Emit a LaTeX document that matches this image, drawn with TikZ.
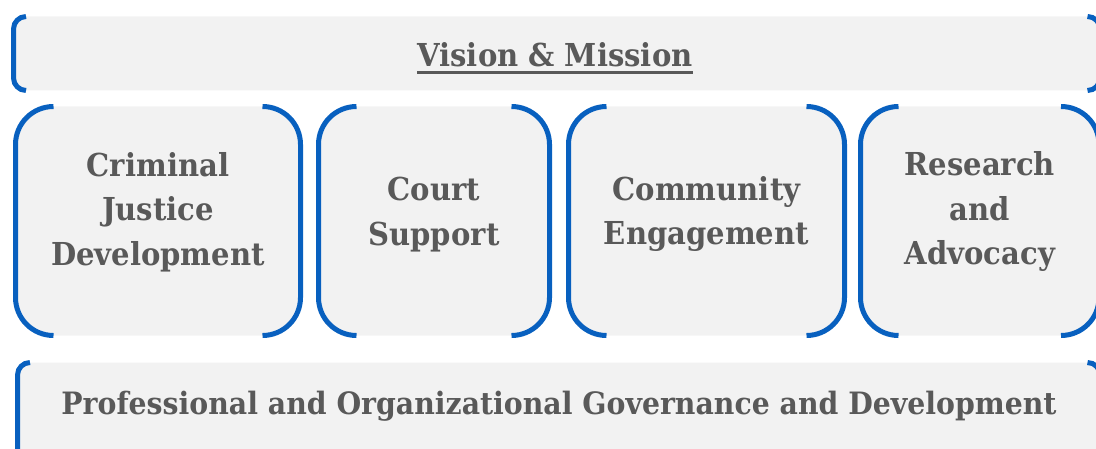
\documentclass[tikz,border=0pt]{standalone}
\usepackage{fontspec}
\setmainfont{DejaVu Serif}[FakeStretch=0.92]
\usetikzlibrary{calc, positioning}
\definecolor{panelgray}{HTML}{F2F2F2}
\definecolor{bracketblue}{HTML}{0860BF}
\definecolor{labelgray}{HTML}{595959}
\tikzset{
  panel/.style={fill=panelgray, rounded corners=#1, inner sep=0pt, outer sep=0pt},
  bracket/.style={draw=bracketblue, line width=2.5pt, rounded corners=#1},
  plabel/.style={text=labelgray, font=\fontsize{15.8}{22.25}\selectfont\bfseries, align=center, inner sep=0pt}
}

\begin{document}
\begin{tikzpicture}[x=0.5pt, y=-0.5pt]
\useasboundingbox (0,0) rectangle (1096,449);
\clip (0,0) rectangle (1096,449);
% top band
\node[panel=6.25pt, minimum width=543.25pt, minimum height=37pt] (vision) at (556.75,53.5) {};
\draw[bracket=6.25pt] ([xshift=6.25pt]vision.north west) -- (vision.north west) -- (vision.south west) -- ([xshift=6.25pt]vision.south west);
\draw[bracket=6.25pt] ([xshift=-6.25pt]vision.north east) -- (vision.north east) -- (vision.south east) -- ([xshift=-6.25pt]vision.south east);
\node[plabel, anchor=base] (vision-txt) at (555,67) {Vision \& Mission};
\draw[labelgray, line width=1.5pt] ([yshift=-2.6pt]vision-txt.base west) -- ([yshift=-2.6pt]vision-txt.base east);
% pillars
\foreach \nm/\cx/\bw/\dy/\txt in {crim/158/285/4.5/{Criminal\\Justice\\Development},
    court/434/231/3.25/{Court\\Support},
    comm/706.5/276/3.5/{Community\\Engagement},
    res/979.75/238.5/4.5/{Research\\and\\Advocacy}} {
  \node[panel=19pt, minimum width=\bw*0.5pt, minimum height=114.5pt] (\nm) at (\cx,221) {};
  \draw[bracket=19pt] ([xshift=19pt]\nm.north west) -- (\nm.north west) -- (\nm.south west) -- ([xshift=19pt]\nm.south west);
  \draw[bracket=19pt] ([xshift=-19pt]\nm.north east) -- (\nm.north east) -- (\nm.south east) -- ([xshift=-19pt]\nm.south east);
  \node[plabel] (\nm-txt) at ([yshift=\dy pt]\nm.center) {\txt};
}
% bottom band
\node[panel=6.25pt, minimum width=541.25pt, minimum height=53.75pt] (gov) at (558.75,416.25) {};
\draw[bracket=6.25pt] ([xshift=6.25pt]gov.north west) -- (gov.north west) -- (gov.south west) -- ([xshift=6.25pt]gov.south west);
\draw[bracket=6.25pt] ([xshift=-6.25pt]gov.north east) -- (gov.north east) -- (gov.south east) -- ([xshift=-6.25pt]gov.south east);
\node[plabel, font=\fontsize{15.4}{20}\selectfont\bfseries, anchor=base] (gov-txt) at (559,414) {Professional and Organizational Governance and Development};
\end{tikzpicture}
\end{document}
